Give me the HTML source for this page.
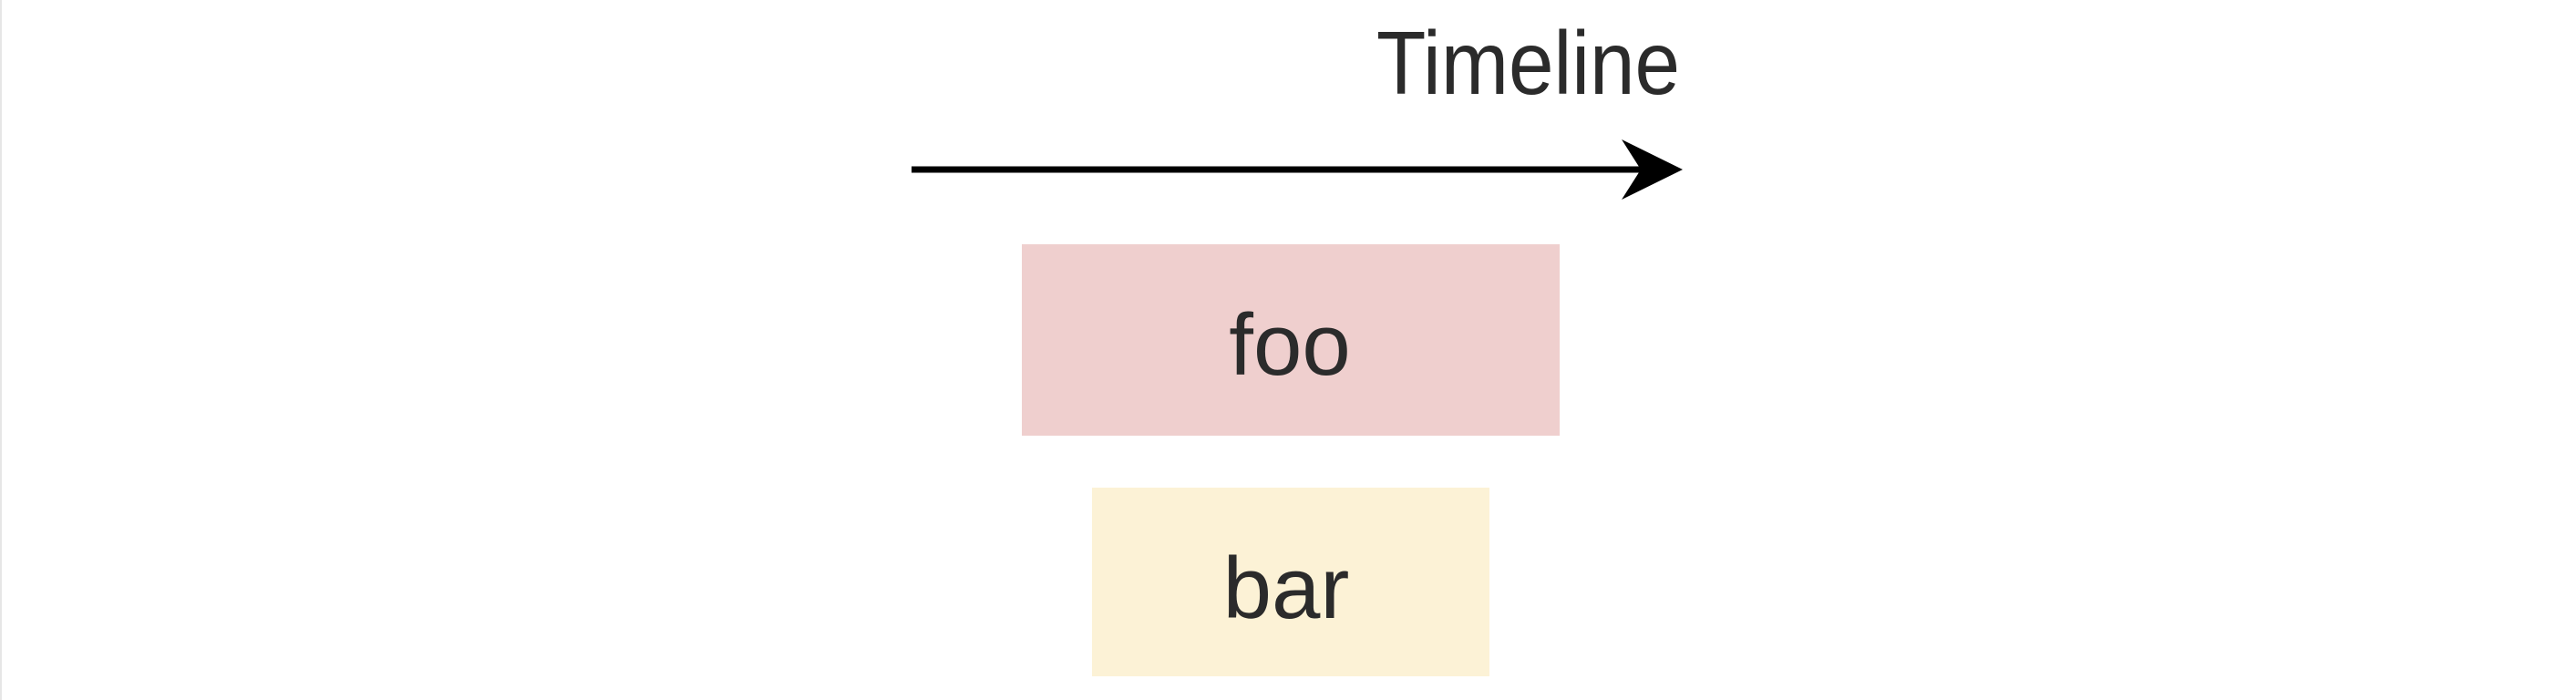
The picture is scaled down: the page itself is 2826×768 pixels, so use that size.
<!DOCTYPE html>
<html><head><style>
html,body{margin:0;padding:0;background:#fff;}
body{width:2826px;height:768px;position:relative;overflow:hidden;font-family:"Liberation Sans",sans-serif;color:#2b2b2b;}
.b{position:absolute;}
</style></head><body>
<div class="b" style="left:0;top:0;width:2px;height:768px;background:#e6e6e6"></div>
<div class="b" style="left:1121px;top:268px;width:590px;height:210px;background:#efcfce"></div>
<div class="b" style="left:1198px;top:535px;width:436px;height:207px;background:#fcf2d6"></div>
<svg class="b" style="left:0;top:0" width="2826" height="768">
<line x1="1000" y1="186" x2="1800" y2="186" stroke="#000" stroke-width="7"/>
<path d="M1779 153 L1846 186 L1779 219 L1800 186 Z" fill="#000"/>
<text x="1510" y="103" textLength="333" lengthAdjust="spacingAndGlyphs" font-family="Liberation Sans, sans-serif" font-size="98" fill="#2b2b2b">Timeline</text>
<text x="1415" y="411" text-anchor="middle" font-family="Liberation Sans, sans-serif" font-size="96" fill="#2b2b2b">foo</text>
<text x="1411" y="678" text-anchor="middle" font-family="Liberation Sans, sans-serif" font-size="96" fill="#2b2b2b">bar</text>
</svg>
</body></html>
